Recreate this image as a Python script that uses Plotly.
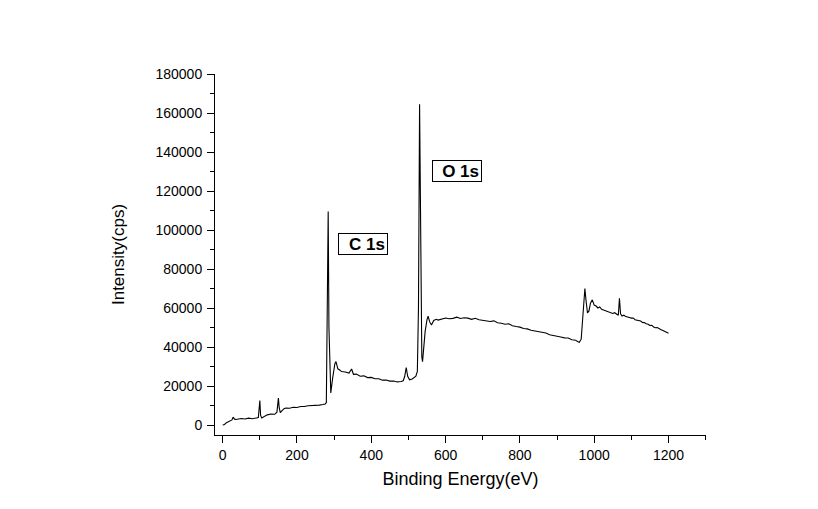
import plotly.graph_objects as go

energy = [0, 5, 10, 15, 20, 25, 28, 32, 36, 40, 50, 60, 70, 80, 90, 96, 100, 102, 105, 110,
          120, 130, 140, 146, 150, 152, 155, 158, 165, 170, 180, 190, 200, 210, 220, 230, 240,
          250, 260, 270, 276, 279, 282, 284, 286, 289, 291, 296, 302, 305, 310, 315, 320, 330,
          340, 347, 352, 360, 370, 380, 390, 400, 410, 420, 430, 440, 450, 460, 470, 480, 486,
          490, 494, 498, 503, 510, 515, 520, 524, 527, 530, 533, 536, 538, 541, 545, 550, 553,
          557, 562, 568, 575, 580, 590, 600, 610, 620, 630, 640, 650, 660, 670, 680, 690, 700,
          710, 720, 730, 740, 750, 760, 770, 780, 790, 800, 810, 820, 830, 840, 850, 860, 870,
          880, 890, 900, 910, 920, 930, 940, 950, 955, 960, 965, 968, 972, 975, 978, 982, 986,
          990, 995, 1000, 1005, 1010, 1015, 1020, 1025, 1030, 1035, 1040, 1045, 1050, 1055,
          1060, 1065, 1068, 1071, 1075, 1080, 1085, 1090, 1095, 1100, 1105, 1110, 1115, 1120,
          1125, 1130, 1135, 1140, 1145, 1150, 1155, 1160, 1165, 1170, 1175, 1180, 1185, 1190,
          1195, 1200]

intensity = [0, 300, 1200, 1800, 2000, 2600, 4000, 3000, 2800, 3000, 3300, 3100, 3500, 3200,
             3700, 3800, 12500, 5000, 3600, 4200,
             5200, 5600, 5500, 6600, 13800, 9000, 6300, 7000, 8400, 8700, 8600, 9100, 9000,
             9500, 9500, 9900, 9900,
             10200, 10200, 10500, 10800, 11500, 60000, 109500, 50000, 20000, 16400, 24000,
             31500, 32500, 28800, 28200, 27400, 27200,
             26600, 28700, 26000, 26100, 25000, 25200, 24300, 24400, 23700, 23700, 23000,
             23100, 22500, 22600, 22100, 22300, 22700,
             25000, 29500, 25000, 23200, 23600, 24200, 25000, 27500, 60000, 164500, 90000,
             35000, 32500, 40000, 48000, 54000, 55800,
             53000, 51300, 53600, 54200, 53800, 54300, 54900, 54500, 54700, 55300, 54600,
             55000, 54800, 54200, 54700, 54000, 53800,
             53500, 53100, 53400, 52400, 52200, 51700, 51900, 50900, 50500, 50200, 49500,
             49300, 48600, 48300, 47700, 47400, 47200,
             46300, 46000, 45600, 45100, 44700, 44600, 43700, 43500, 42800, 42400, 44000,
             52000, 62000, 70000, 64000, 57500, 58500,
             62500, 64200, 61500, 61000, 60000, 60500, 59300, 59000, 58600, 58300, 58000,
             57400, 57200, 57600,
             56700, 56300, 65000, 57000, 55900, 56300, 55600, 55500, 55100, 54800, 54900,
             54000, 53800, 53500,
             53300, 52600, 52500, 51900, 51700, 51000, 51100, 50300, 49900, 50000, 49200,
             48900, 48500, 48100,
             47500, 47000]

peak_labels = ["C 1s", "O 1s"]
peak_label_x = [378, 630]
peak_label_y = [93000, 130200]

x_ticks = [0, 200, 400, 600, 800, 1000, 1200]
y_ticks = [0, 20000, 40000, 60000, 80000, 100000, 120000, 140000, 160000, 180000]

FONT = "Liberation Sans, Arial, sans-serif"

fig = go.Figure()
fig.add_trace(go.Scatter(x=energy, y=intensity, mode="lines",
                         line=dict(color="black", width=1.1), showlegend=False))

for txt, lx, ly in zip(peak_labels, peak_label_x, peak_label_y):
    fig.add_annotation(x=lx, y=ly, text="<b>" + txt + "</b>", showarrow=False,
                       font=dict(family=FONT, size=17, color="black"),
                       bordercolor="black", borderwidth=1, borderpad=2,
                       width=44, height=16, align="right", bgcolor="white")

fig.update_layout(
    width=818, height=509,
    margin=dict(l=207, r=120, t=66, b=82),
    paper_bgcolor="white", plot_bgcolor="white",
    font=dict(family=FONT, size=14, color="black"),
    xaxis=dict(range=[-20.7, 1301], tickvals=x_ticks, ticktext=[str(v) for v in x_ticks],
               showline=True, linecolor="black", linewidth=1, ticks="outside",
               ticklen=7, tickcolor="black", showgrid=False, zeroline=False,
               minor=dict(dtick=100, tick0=0, ticks="outside", ticklen=4, tickcolor="black"),
               title=dict(text="Binding Energy(eV)", font=dict(size=18), standoff=10)),
    yaxis=dict(range=[-5128, 180000], tickvals=y_ticks, ticktext=[str(v) for v in y_ticks],
               showline=True, linecolor="black", linewidth=1, ticks="outside",
               ticklen=7, tickcolor="black", showgrid=False, zeroline=False,
               ticklabelstandoff=2,
               minor=dict(dtick=10000, tick0=0, ticks="outside", ticklen=4, tickcolor="black"),
               title=dict(text="Intensity(cps)", font=dict(size=17), standoff=26)),
)

fig.write_html("out.html")
